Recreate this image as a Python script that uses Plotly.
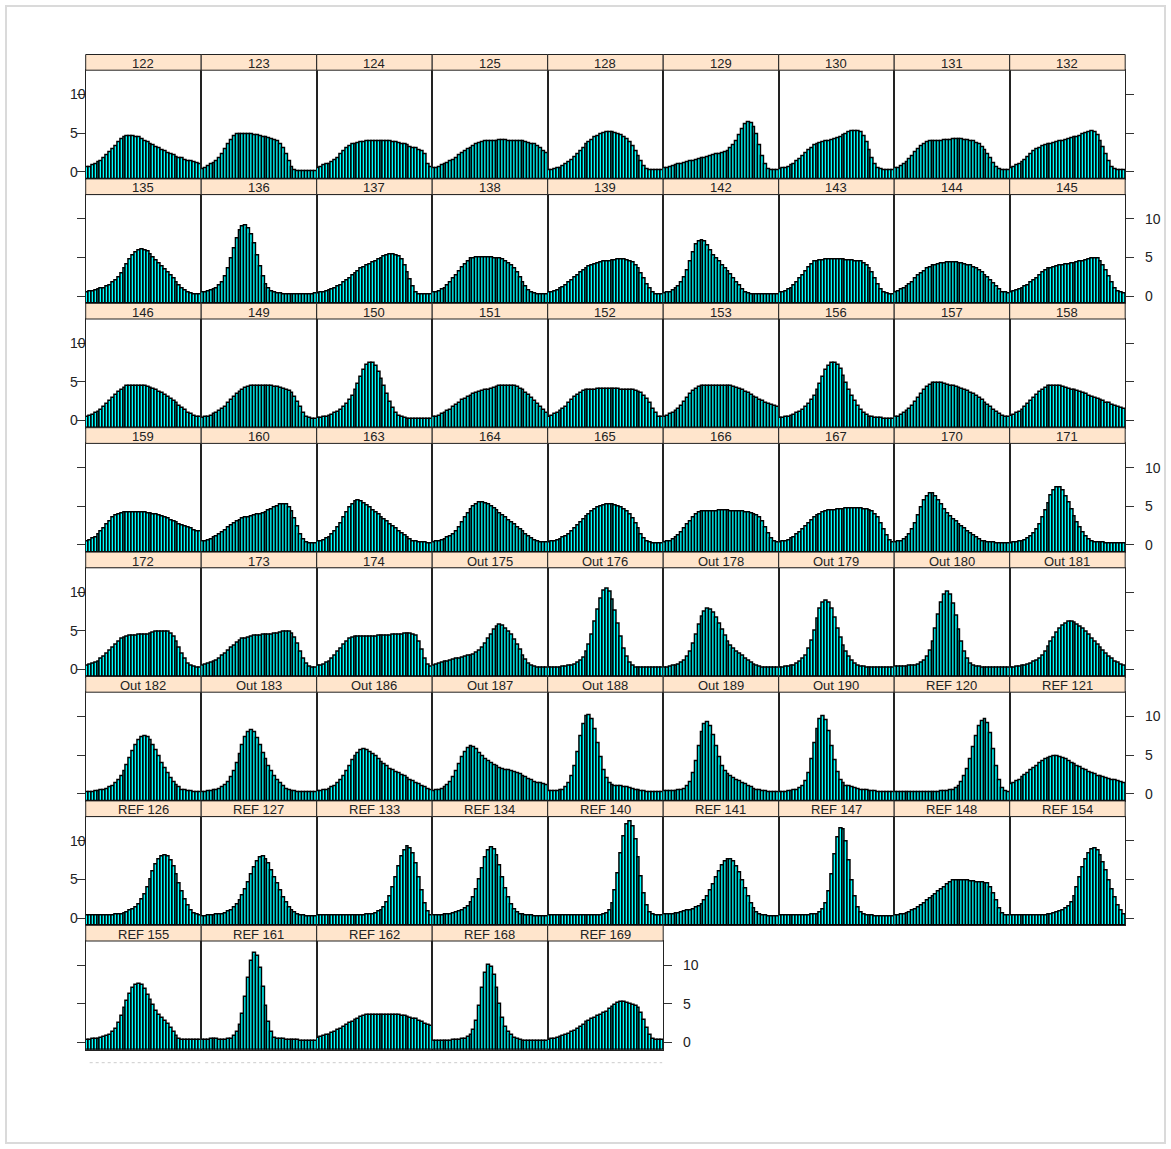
import plotly.graph_objects as go

W, H = 1171, 1149

# ---------------- data (bar heights per panel, 40 bins) ----------------
bins = list(range(40))

v122 = [0.6,0.6,0.8,1.0,1.2,1.4,1.7,2.1,2.5,2.9,3.3,3.8,4.2,4.4,4.6,4.6,4.6,4.5,4.4,4.2,4.0,3.8,3.6,3.4,3.2,3.0,2.8,2.6,2.4,2.3,2.1,1.9,1.8,1.7,1.5,1.4,1.3,1.2,1.1,1.0]
v123 = [0.3,0.5,0.7,0.9,1.1,1.4,1.8,2.3,2.9,3.5,4.1,4.6,4.8,4.9,4.9,4.9,4.8,4.8,4.7,4.7,4.6,4.5,4.4,4.3,4.2,4.1,4.0,3.6,3.0,2.2,1.3,0.6,0.2,0.1,0.1,0.1,0.1,0.1,0.1,0.1]
v124 = [0.5,0.6,0.8,0.9,1.0,1.2,1.5,1.8,2.2,2.6,3.0,3.3,3.5,3.6,3.7,3.8,3.8,3.9,3.9,3.9,3.9,3.9,3.9,3.9,3.9,3.9,3.8,3.8,3.7,3.6,3.5,3.4,3.2,3.1,3.0,2.8,2.6,2.3,1.0,0.6]
v125 = [0.4,0.5,0.6,0.8,0.9,1.1,1.3,1.5,1.8,2.1,2.4,2.7,2.9,3.1,3.3,3.5,3.7,3.8,3.9,4.0,4.0,4.0,4.0,4.1,4.1,4.1,4.0,4.0,4.0,4.0,3.9,3.9,3.8,3.7,3.6,3.5,3.3,3.0,2.6,2.4]
v128 = [0.2,0.2,0.3,0.4,0.5,0.7,0.9,1.2,1.5,1.9,2.3,2.7,3.1,3.5,3.8,4.1,4.4,4.6,4.8,5.0,5.1,5.1,5.1,5.0,4.9,4.7,4.5,4.2,3.8,3.3,2.7,2.0,1.3,0.7,0.3,0.2,0.2,0.2,0.2,0.2]
v129 = [0.4,0.5,0.6,0.7,0.8,0.9,1.0,1.1,1.2,1.3,1.4,1.5,1.6,1.7,1.8,1.9,2.0,2.1,2.2,2.3,2.4,2.5,2.7,3.0,3.4,4.0,4.7,5.5,6.1,6.4,6.3,5.8,4.8,3.4,2.0,0.9,0.3,0.2,0.2,0.2]
v130 = [0.3,0.4,0.5,0.6,0.8,1.0,1.3,1.6,2.0,2.4,2.8,3.1,3.4,3.6,3.7,3.8,3.9,4.0,4.1,4.2,4.3,4.5,4.7,4.9,5.1,5.2,5.3,5.3,5.1,4.6,3.8,2.8,1.8,0.9,0.4,0.3,0.2,0.2,0.2,0.2]
v131 = [0.4,0.5,0.7,0.9,1.2,1.6,2.0,2.5,2.9,3.3,3.6,3.8,3.9,4.0,4.0,4.0,4.0,4.1,4.1,4.1,4.2,4.2,4.2,4.2,4.1,4.1,4.0,3.9,3.7,3.5,3.2,2.8,2.3,1.7,1.1,0.6,0.3,0.2,0.2,0.2]
v132 = [0.5,0.6,0.8,1.0,1.2,1.5,1.9,2.3,2.6,2.9,3.1,3.3,3.4,3.5,3.6,3.7,3.8,3.9,4.0,4.1,4.2,4.3,4.4,4.5,4.6,4.8,5.0,5.1,5.2,5.1,4.7,4.0,3.2,2.3,1.3,0.6,0.3,0.2,0.2,0.2]

v135 = [0.5,0.6,0.6,0.7,0.8,0.9,1.0,1.2,1.4,1.7,2.0,2.4,2.9,3.5,4.1,4.7,5.2,5.6,5.9,6.0,5.9,5.7,5.4,5.0,4.6,4.2,3.8,3.4,3.0,2.6,2.2,1.8,1.4,1.0,0.7,0.4,0.3,0.2,0.2,0.2]
v136 = [0.4,0.5,0.6,0.7,0.8,1.0,1.3,1.8,2.5,3.5,4.8,6.2,7.5,8.5,9.0,9.1,8.8,8.0,6.8,5.3,3.8,2.5,1.5,0.9,0.6,0.4,0.3,0.3,0.2,0.2,0.2,0.2,0.2,0.2,0.2,0.2,0.2,0.2,0.2,0.3]
v137 = [0.3,0.4,0.5,0.6,0.7,0.8,1.0,1.2,1.4,1.7,2.0,2.3,2.6,2.9,3.2,3.5,3.7,3.9,4.1,4.3,4.5,4.7,4.9,5.1,5.3,5.4,5.4,5.3,5.1,4.7,4.0,3.1,2.1,1.2,0.5,0.2,0.2,0.2,0.2,0.2]
v138 = [0.4,0.5,0.6,0.8,1.0,1.3,1.7,2.2,2.7,3.2,3.7,4.1,4.5,4.8,4.9,5.0,5.0,5.0,5.0,5.0,5.0,4.9,4.9,4.8,4.7,4.5,4.2,3.9,3.5,3.0,2.4,1.8,1.2,0.7,0.4,0.3,0.2,0.2,0.2,0.2]
v139 = [0.4,0.5,0.6,0.7,0.9,1.1,1.4,1.7,2.0,2.4,2.7,3.0,3.3,3.6,3.8,4.0,4.1,4.2,4.3,4.4,4.5,4.5,4.6,4.6,4.7,4.7,4.7,4.6,4.5,4.3,4.0,3.5,2.9,2.2,1.5,0.9,0.4,0.2,0.2,0.2]
v142 = [0.3,0.4,0.5,0.7,0.9,1.2,1.7,2.4,3.3,4.4,5.6,6.6,7.1,7.2,7.0,6.5,5.9,5.3,4.8,4.4,4.0,3.6,3.2,2.8,2.3,1.8,1.3,0.8,0.5,0.3,0.2,0.2,0.2,0.2,0.2,0.2,0.2,0.2,0.2,0.2]
v143 = [0.4,0.5,0.6,0.8,1.0,1.3,1.7,2.2,2.7,3.2,3.7,4.1,4.4,4.5,4.6,4.6,4.7,4.7,4.7,4.7,4.7,4.7,4.7,4.6,4.6,4.6,4.5,4.5,4.4,4.2,4.0,3.6,3.0,2.3,1.5,0.8,0.4,0.3,0.2,0.2]
v144 = [0.5,0.6,0.8,1.0,1.2,1.5,1.8,2.2,2.6,2.9,3.2,3.5,3.7,3.9,4.0,4.1,4.2,4.2,4.3,4.3,4.3,4.3,4.2,4.2,4.1,4.0,3.9,3.7,3.5,3.3,3.0,2.7,2.4,2.0,1.6,1.2,0.8,0.5,0.4,0.3]
v145 = [0.5,0.6,0.7,0.8,1.0,1.2,1.4,1.7,2.0,2.3,2.7,3.0,3.3,3.5,3.6,3.7,3.8,3.9,4.0,4.1,4.1,4.2,4.2,4.3,4.4,4.5,4.6,4.7,4.8,4.9,4.8,4.5,4.0,3.3,2.5,1.7,1.0,0.6,0.4,0.3]

v146 = [0.5,0.6,0.7,0.9,1.1,1.4,1.7,2.1,2.5,2.9,3.3,3.7,4.0,4.2,4.4,4.5,4.5,4.5,4.5,4.4,4.4,4.3,4.2,4.1,3.9,3.7,3.5,3.3,3.1,2.8,2.5,2.2,1.9,1.6,1.3,1.0,0.8,0.6,0.5,0.4]
v149 = [0.3,0.4,0.5,0.6,0.8,1.0,1.2,1.5,1.8,2.2,2.6,3.0,3.4,3.7,4.0,4.2,4.3,4.4,4.5,4.5,4.5,4.5,4.4,4.4,4.4,4.3,4.3,4.2,4.1,4.0,3.8,3.5,3.0,2.4,1.7,1.0,0.5,0.3,0.2,0.2]
v150 = [0.3,0.3,0.4,0.5,0.6,0.7,0.9,1.1,1.4,1.7,2.1,2.6,3.2,3.9,4.7,5.6,6.5,7.2,7.5,7.4,7.0,6.3,5.4,4.4,3.4,2.4,1.6,1.0,0.6,0.4,0.3,0.2,0.2,0.2,0.2,0.2,0.2,0.2,0.2,0.2]
v151 = [0.4,0.5,0.6,0.8,1.0,1.2,1.4,1.7,2.0,2.3,2.6,2.8,3.0,3.2,3.4,3.6,3.7,3.8,3.9,4.0,4.1,4.2,4.3,4.4,4.4,4.5,4.5,4.5,4.4,4.3,4.1,3.9,3.6,3.3,2.9,2.5,2.1,1.7,1.3,1.0]
v152 = [0.5,0.6,0.8,1.0,1.2,1.5,1.8,2.2,2.6,3.0,3.3,3.6,3.8,3.9,4.0,4.0,4.0,4.1,4.1,4.1,4.1,4.1,4.1,4.1,4.1,4.0,4.0,4.0,3.9,3.9,3.8,3.7,3.5,3.2,2.8,2.2,1.5,0.9,0.5,0.4]
v153 = [0.5,0.6,0.8,1.0,1.2,1.5,1.9,2.4,2.9,3.4,3.8,4.1,4.3,4.4,4.4,4.4,4.4,4.4,4.4,4.4,4.4,4.4,4.4,4.4,4.3,4.2,4.1,3.9,3.7,3.5,3.3,3.1,2.9,2.7,2.5,2.3,2.1,2.0,1.9,1.8]
v156 = [0.3,0.3,0.4,0.5,0.6,0.7,0.9,1.1,1.4,1.7,2.1,2.6,3.2,3.9,4.7,5.6,6.5,7.1,7.5,7.5,7.2,6.6,5.8,4.9,4.0,3.2,2.5,1.9,1.4,1.0,0.7,0.5,0.4,0.3,0.3,0.3,0.2,0.2,0.2,0.2]
v157 = [0.4,0.5,0.7,0.9,1.2,1.5,1.9,2.4,2.9,3.4,3.9,4.3,4.6,4.8,4.9,4.9,4.8,4.7,4.6,4.5,4.4,4.3,4.2,4.1,4.0,3.8,3.6,3.4,3.2,2.9,2.6,2.3,2.0,1.7,1.4,1.1,0.8,0.6,0.5,0.4]
v158 = [0.6,0.7,0.9,1.1,1.4,1.7,2.1,2.5,2.9,3.3,3.7,4.0,4.2,4.4,4.5,4.5,4.5,4.4,4.3,4.2,4.1,4.0,3.9,3.8,3.7,3.5,3.4,3.2,3.1,2.9,2.8,2.6,2.5,2.3,2.2,2.0,1.9,1.7,1.6,1.5]

v159 = [0.5,0.6,0.8,1.0,1.3,1.7,2.1,2.6,3.1,3.5,3.8,4.0,4.1,4.2,4.2,4.2,4.2,4.2,4.2,4.2,4.2,4.1,4.1,4.0,3.9,3.8,3.7,3.5,3.4,3.2,3.0,2.9,2.7,2.5,2.4,2.2,2.1,1.9,1.8,1.7]
v160 = [0.4,0.5,0.6,0.7,0.9,1.1,1.3,1.6,1.9,2.2,2.5,2.8,3.0,3.2,3.4,3.5,3.6,3.7,3.8,3.9,4.0,4.1,4.2,4.4,4.6,4.8,5.0,5.2,5.3,5.2,4.9,4.3,3.4,2.4,1.4,0.7,0.3,0.2,0.2,0.2]
v163 = [0.4,0.5,0.6,0.8,1.0,1.3,1.7,2.2,2.8,3.5,4.2,4.8,5.3,5.6,5.7,5.6,5.4,5.1,4.8,4.5,4.2,3.9,3.6,3.3,3.0,2.7,2.4,2.1,1.8,1.5,1.2,0.9,0.7,0.5,0.4,0.3,0.3,0.3,0.2,0.2]
v164 = [0.3,0.4,0.5,0.6,0.7,0.9,1.1,1.4,1.8,2.3,2.9,3.5,4.1,4.6,5.0,5.3,5.5,5.5,5.4,5.2,5.0,4.7,4.4,4.1,3.8,3.5,3.2,2.9,2.6,2.3,2.0,1.7,1.4,1.1,0.8,0.6,0.4,0.3,0.3,0.3]
v165 = [0.3,0.4,0.5,0.6,0.7,0.9,1.1,1.4,1.7,2.1,2.5,2.9,3.3,3.7,4.0,4.3,4.6,4.8,5.0,5.1,5.2,5.2,5.2,5.1,5.0,4.8,4.6,4.3,3.9,3.4,2.8,2.1,1.4,0.8,0.4,0.3,0.2,0.2,0.2,0.2]
v166 = [0.3,0.4,0.5,0.7,0.9,1.2,1.6,2.1,2.6,3.1,3.6,4.0,4.2,4.3,4.3,4.3,4.3,4.3,4.3,4.4,4.4,4.4,4.4,4.3,4.3,4.3,4.3,4.3,4.2,4.2,4.1,4.0,3.8,3.5,3.0,2.3,1.5,0.8,0.4,0.3]
v167 = [0.3,0.4,0.5,0.6,0.8,1.0,1.3,1.6,2.0,2.4,2.8,3.2,3.5,3.8,4.0,4.2,4.3,4.4,4.5,4.5,4.6,4.6,4.6,4.7,4.7,4.7,4.7,4.7,4.7,4.6,4.6,4.5,4.3,4.0,3.5,2.8,2.0,1.2,0.6,0.3]
v170 = [0.3,0.4,0.5,0.7,1.0,1.4,2.0,2.8,3.8,4.8,5.7,6.3,6.6,6.6,6.3,5.8,5.2,4.6,4.1,3.7,3.3,3.0,2.7,2.4,2.1,1.8,1.5,1.2,0.9,0.7,0.5,0.4,0.3,0.3,0.3,0.2,0.2,0.2,0.2,0.2]
v171 = [0.2,0.3,0.3,0.4,0.5,0.6,0.8,1.1,1.5,2.0,2.7,3.5,4.4,5.4,6.4,7.1,7.5,7.4,7.0,6.3,5.5,4.6,3.7,2.9,2.2,1.6,1.1,0.7,0.5,0.3,0.3,0.3,0.3,0.2,0.2,0.2,0.2,0.2,0.2,0.2]

v172 = [0.5,0.6,0.7,0.8,1.0,1.3,1.6,2.0,2.4,2.8,3.2,3.6,3.9,4.1,4.2,4.3,4.3,4.3,4.4,4.4,4.5,4.5,4.6,4.7,4.8,4.8,4.9,4.9,4.8,4.6,4.2,3.6,2.8,2.0,1.3,0.7,0.4,0.3,0.2,0.2]
v173 = [0.5,0.6,0.7,0.8,0.9,1.1,1.4,1.7,2.0,2.4,2.8,3.1,3.4,3.7,3.9,4.0,4.1,4.2,4.3,4.3,4.3,4.4,4.4,4.5,4.5,4.6,4.6,4.7,4.8,4.8,4.8,4.6,4.1,3.3,2.3,1.4,0.7,0.3,0.2,0.2]
v174 = [0.4,0.5,0.6,0.8,1.0,1.3,1.7,2.2,2.7,3.2,3.6,3.9,4.1,4.2,4.2,4.2,4.2,4.2,4.2,4.2,4.2,4.3,4.3,4.3,4.3,4.3,4.4,4.4,4.5,4.5,4.6,4.6,4.6,4.5,4.3,3.6,2.5,1.3,0.6,0.3]
v_out175 = [0.5,0.6,0.7,0.8,0.9,1.0,1.1,1.2,1.3,1.4,1.5,1.6,1.7,1.8,1.9,2.1,2.4,2.8,3.3,3.9,4.5,5.1,5.5,5.7,5.6,5.3,4.9,4.4,3.8,3.2,2.5,1.8,1.2,0.7,0.4,0.3,0.2,0.2,0.2,0.2]
v_out176 = [0.2,0.2,0.2,0.2,0.2,0.3,0.3,0.4,0.5,0.6,0.8,1.1,1.5,2.2,3.2,4.5,6.1,7.7,9.1,10.1,10.4,10.0,9.0,7.6,5.9,4.2,2.7,1.6,0.8,0.4,0.2,0.2,0.2,0.2,0.2,0.2,0.2,0.2,0.2,0.2]
v_out178 = [0.2,0.2,0.3,0.4,0.5,0.6,0.8,1.1,1.6,2.3,3.3,4.5,5.7,6.8,7.5,7.8,7.7,7.3,6.7,5.9,5.1,4.3,3.6,3.0,2.6,2.3,2.0,1.7,1.4,1.1,0.8,0.6,0.4,0.3,0.2,0.2,0.2,0.2,0.2,0.2]
v_out179 = [0.2,0.2,0.3,0.3,0.4,0.5,0.7,0.9,1.3,1.8,2.6,3.7,5.0,6.5,7.8,8.6,8.9,8.6,7.8,6.6,5.3,4.1,3.1,2.3,1.6,1.1,0.7,0.5,0.3,0.3,0.2,0.2,0.2,0.2,0.2,0.2,0.2,0.2,0.2,0.2]
v_out180 = [0.3,0.3,0.3,0.3,0.3,0.4,0.4,0.5,0.6,0.8,1.1,1.6,2.4,3.6,5.2,7.0,8.6,9.7,10.0,9.6,8.5,6.9,5.1,3.5,2.2,1.3,0.7,0.4,0.3,0.3,0.2,0.2,0.2,0.2,0.2,0.2,0.2,0.2,0.2,0.2]
v_out181 = [0.2,0.2,0.3,0.3,0.4,0.5,0.6,0.7,0.9,1.1,1.4,1.8,2.3,2.9,3.5,4.1,4.7,5.2,5.6,5.9,6.1,6.1,6.0,5.8,5.5,5.2,4.8,4.4,4.0,3.6,3.2,2.8,2.4,2.0,1.6,1.3,1.0,0.8,0.6,0.5]

v_out182 = [0.2,0.2,0.2,0.3,0.3,0.4,0.5,0.6,0.8,1.0,1.3,1.7,2.2,2.9,3.7,4.6,5.5,6.3,6.9,7.3,7.4,7.3,6.9,6.3,5.6,4.8,4.0,3.3,2.6,2.0,1.5,1.1,0.8,0.5,0.4,0.3,0.3,0.2,0.2,0.2]
v_out183 = [0.2,0.2,0.3,0.3,0.4,0.5,0.6,0.8,1.1,1.5,2.1,2.9,3.9,5.1,6.3,7.3,8.0,8.2,7.9,7.2,6.3,5.3,4.4,3.6,2.9,2.3,1.8,1.3,0.9,0.6,0.4,0.3,0.3,0.2,0.2,0.2,0.2,0.2,0.2,0.2]
v_out186 = [0.3,0.3,0.4,0.5,0.6,0.8,1.0,1.3,1.7,2.2,2.9,3.6,4.3,4.9,5.3,5.6,5.7,5.6,5.4,5.1,4.8,4.4,4.1,3.8,3.5,3.2,3.0,2.8,2.6,2.4,2.2,2.0,1.8,1.6,1.4,1.2,1.0,0.8,0.6,0.5]
v_out187 = [0.3,0.4,0.5,0.6,0.8,1.1,1.5,2.1,2.9,3.8,4.7,5.4,5.9,6.1,6.0,5.7,5.3,4.9,4.5,4.2,3.9,3.7,3.5,3.3,3.2,3.1,3.0,2.9,2.8,2.7,2.5,2.3,2.1,1.9,1.7,1.5,1.4,1.3,1.2,1.1]
v_out188 = [0.3,0.3,0.3,0.3,0.4,0.5,0.8,1.3,2.2,3.6,5.4,7.4,9.0,10.0,10.2,9.6,8.3,6.5,4.7,3.1,2.0,1.4,1.1,1.0,0.9,0.9,0.8,0.8,0.7,0.6,0.5,0.4,0.3,0.3,0.2,0.2,0.2,0.2,0.2,0.2]
v_out189 = [0.3,0.3,0.3,0.3,0.3,0.4,0.5,0.6,0.9,1.5,2.6,4.2,6.1,7.9,9.0,9.3,8.8,7.6,6.1,4.7,3.6,2.9,2.5,2.2,2.0,1.8,1.6,1.4,1.2,1.0,0.8,0.6,0.5,0.4,0.3,0.3,0.2,0.2,0.2,0.2]
v_out190 = [0.2,0.2,0.2,0.3,0.3,0.4,0.5,0.7,1.0,1.6,2.7,4.4,6.5,8.4,9.6,10.0,9.5,8.1,6.2,4.3,2.8,1.8,1.3,1.0,0.9,0.8,0.7,0.6,0.5,0.4,0.4,0.3,0.3,0.3,0.2,0.2,0.2,0.2,0.2,0.2]
v_ref120 = [0.2,0.2,0.2,0.2,0.2,0.2,0.2,0.2,0.2,0.2,0.2,0.2,0.2,0.2,0.2,0.2,0.3,0.3,0.3,0.4,0.5,0.7,1.0,1.5,2.2,3.2,4.5,6.0,7.5,8.7,9.4,9.6,9.1,7.8,5.8,3.6,1.8,0.7,0.3,0.2]
v_ref121 = [1.2,1.4,1.6,1.8,2.1,2.4,2.7,3.0,3.3,3.6,3.9,4.2,4.4,4.6,4.7,4.8,4.8,4.7,4.6,4.4,4.2,4.0,3.8,3.6,3.4,3.2,3.0,2.8,2.6,2.5,2.3,2.2,2.1,2.0,1.9,1.8,1.7,1.6,1.5,1.4]

v_ref126 = [0.3,0.3,0.3,0.3,0.3,0.3,0.3,0.3,0.3,0.3,0.4,0.4,0.5,0.6,0.7,0.9,1.1,1.4,1.8,2.4,3.1,4.0,5.0,6.0,6.9,7.6,8.0,8.1,7.9,7.4,6.6,5.6,4.5,3.4,2.4,1.6,1.0,0.6,0.4,0.3]
v_ref127 = [0.2,0.2,0.3,0.3,0.3,0.4,0.4,0.5,0.6,0.8,1.0,1.3,1.7,2.2,2.9,3.7,4.6,5.6,6.5,7.3,7.8,7.9,7.6,7.0,6.2,5.3,4.4,3.5,2.7,2.0,1.4,1.0,0.7,0.5,0.3,0.3,0.2,0.2,0.2,0.2]
v_ref133 = [0.3,0.3,0.3,0.3,0.3,0.3,0.3,0.3,0.3,0.3,0.3,0.3,0.3,0.3,0.3,0.3,0.3,0.4,0.4,0.5,0.6,0.8,1.0,1.4,2.0,2.8,3.9,5.2,6.6,7.9,8.8,9.2,9.0,8.3,7.0,5.3,3.5,1.9,0.8,0.3]
v_ref134 = [0.3,0.3,0.3,0.3,0.4,0.4,0.5,0.6,0.7,0.8,1.0,1.2,1.5,2.0,2.7,3.7,5.0,6.4,7.8,8.7,9.1,8.9,8.1,6.8,5.3,3.8,2.6,1.7,1.1,0.7,0.5,0.4,0.3,0.3,0.3,0.2,0.2,0.2,0.2,0.2]
v_ref140 = [0.3,0.3,0.3,0.3,0.3,0.3,0.3,0.3,0.3,0.3,0.3,0.3,0.3,0.3,0.3,0.3,0.3,0.3,0.3,0.4,0.6,1.0,1.9,3.5,5.8,8.3,10.6,12.1,12.5,11.8,10.1,7.8,5.4,3.2,1.6,0.7,0.4,0.3,0.3,0.3]
v_ref141 = [0.4,0.4,0.5,0.5,0.6,0.6,0.7,0.8,0.9,1.0,1.1,1.3,1.5,1.8,2.2,2.8,3.5,4.3,5.2,6.0,6.8,7.3,7.6,7.6,7.3,6.7,5.9,4.9,3.8,2.8,1.9,1.2,0.7,0.4,0.3,0.3,0.2,0.2,0.2,0.2]
v_ref147 = [0.3,0.3,0.3,0.3,0.3,0.3,0.3,0.3,0.3,0.3,0.3,0.4,0.4,0.5,0.7,1.1,1.9,3.4,5.6,8.2,10.4,11.6,11.4,9.9,7.5,4.9,2.8,1.4,0.7,0.4,0.3,0.3,0.3,0.2,0.2,0.2,0.2,0.2,0.2,0.2]
v_ref148 = [0.3,0.3,0.4,0.5,0.6,0.7,0.9,1.1,1.3,1.6,1.9,2.2,2.5,2.8,3.1,3.4,3.7,4.0,4.3,4.6,4.8,4.9,4.9,4.9,4.8,4.8,4.7,4.7,4.6,4.6,4.6,4.5,4.4,4.0,3.2,2.2,1.2,0.6,0.3,0.3]
v_ref154 = [0.3,0.3,0.3,0.3,0.3,0.3,0.3,0.3,0.3,0.3,0.3,0.3,0.3,0.4,0.5,0.6,0.7,0.8,1.0,1.2,1.5,2.0,2.8,3.9,5.2,6.5,7.6,8.4,8.9,9.0,8.7,8.1,7.2,6.1,4.9,3.7,2.6,1.6,0.9,0.5]

v_ref155 = [0.3,0.3,0.4,0.4,0.5,0.6,0.7,0.8,1.0,1.3,1.8,2.5,3.4,4.4,5.4,6.3,7.0,7.5,7.6,7.4,6.9,6.2,5.5,4.8,4.1,3.6,3.2,2.8,2.4,1.9,1.3,0.8,0.4,0.3,0.3,0.3,0.3,0.3,0.3,0.3]
v_ref161 = [0.3,0.3,0.3,0.4,0.4,0.4,0.3,0.3,0.3,0.4,0.5,0.8,1.3,2.2,3.7,5.9,8.4,10.5,11.6,11.2,9.6,7.2,4.7,2.7,1.3,0.6,0.4,0.4,0.4,0.3,0.3,0.3,0.3,0.3,0.2,0.2,0.2,0.2,0.2,0.2]
v_ref162 = [0.6,0.7,0.8,0.9,1.0,1.2,1.4,1.6,1.8,2.0,2.3,2.5,2.7,2.9,3.1,3.3,3.4,3.5,3.6,3.6,3.6,3.6,3.6,3.6,3.6,3.6,3.6,3.5,3.5,3.4,3.4,3.3,3.2,3.1,3.0,2.8,2.6,2.4,2.2,2.1]
v_ref168 = [0.2,0.2,0.2,0.2,0.2,0.2,0.2,0.3,0.3,0.3,0.4,0.5,0.7,1.0,1.6,2.8,4.7,7.0,9.0,10.0,9.8,8.7,7.0,5.0,3.2,2.0,1.3,0.9,0.6,0.4,0.3,0.2,0.2,0.2,0.2,0.2,0.2,0.2,0.2,0.2]
v_ref169 = [0.3,0.4,0.5,0.6,0.7,0.8,0.9,1.1,1.3,1.5,1.7,2.0,2.3,2.6,2.8,3.0,3.2,3.4,3.6,3.8,4.0,4.3,4.6,4.9,5.1,5.2,5.2,5.1,5.0,4.9,4.7,4.4,3.8,2.9,1.9,1.0,0.5,0.3,0.3,0.3]

panel_labels = [
    "122", "123", "124", "125", "128", "129", "130", "131", "132",
    "135", "136", "137", "138", "139", "142", "143", "144", "145",
    "146", "149", "150", "151", "152", "153", "156", "157", "158",
    "159", "160", "163", "164", "165", "166", "167", "170", "171",
    "172", "173", "174", "Out 175", "Out 176", "Out 178", "Out 179", "Out 180", "Out 181",
    "Out 182", "Out 183", "Out 186", "Out 187", "Out 188", "Out 189", "Out 190", "REF 120", "REF 121",
    "REF 126", "REF 127", "REF 133", "REF 134", "REF 140", "REF 141", "REF 147", "REF 148", "REF 154",
    "REF 155", "REF 161", "REF 162", "REF 168", "REF 169",
]
panel_values = [
    v122, v123, v124, v125, v128, v129, v130, v131, v132,
    v135, v136, v137, v138, v139, v142, v143, v144, v145,
    v146, v149, v150, v151, v152, v153, v156, v157, v158,
    v159, v160, v163, v164, v165, v166, v167, v170, v171,
    v172, v173, v174, v_out175, v_out176, v_out178, v_out179, v_out180, v_out181,
    v_out182, v_out183, v_out186, v_out187, v_out188, v_out189, v_out190, v_ref120, v_ref121,
    v_ref126, v_ref127, v_ref133, v_ref134, v_ref140, v_ref141, v_ref147, v_ref148, v_ref154,
    v_ref155, v_ref161, v_ref162, v_ref168, v_ref169,
]
y_ticks = [0, 5, 10]
y_tick_text = ["0", "5", "10"]

# ---------------- layout geometry (pixels) ----------------
NCOL = 9
X0, PW = 85.7, 115.5
TOP, RH, SH = 54.5, 124.4, 15.7
YMIN, YMAX = -0.94, 13.14
FONT = "Liberation Sans, Arial, sans-serif"
STRIP_BG = "#FFE5CC"
FRAME = "#222222"

def px(x):
    return x / W

def py(y):
    return 1 - y / H

fig = go.Figure()
shapes = []
annotations = []
layout_axes = {}
n_panels = len(panel_labels)
nrows = (n_panels + NCOL - 1) // NCOL

for k, (label, vals) in enumerate(zip(panel_labels, panel_values)):
    r, c = divmod(k, NCOL)
    n = k + 1
    xa = "x" if n == 1 else f"x{n}"
    ya = "y" if n == 1 else f"y{n}"
    x0 = X0 + c * PW
    x1 = x0 + PW
    st = TOP + r * RH
    sb = st + SH
    pb = st + RH

    fig.add_trace(go.Bar(
        x=bins, y=[v - YMIN for v in vals], base=YMIN,
        xaxis=xa, yaxis=ya, width=1.0,
        marker=dict(color="#00FFFF", line=dict(color="#000000", width=1.5)),
        showlegend=False, hoverinfo="skip",
    ))

    layout_axes["xaxis" if n == 1 else f"xaxis{n}"] = dict(
        domain=[px(x0), px(x1)], anchor=ya, range=[-0.5, len(bins) - 0.5],
        showgrid=False, zeroline=False, showticklabels=False, ticks="",
        showline=True, mirror=True, linecolor=FRAME, linewidth=1, fixedrange=True,
    )
    last_in_row = (c == NCOL - 1) or (k == n_panels - 1)
    yax = dict(
        domain=[py(pb), py(sb)], anchor=xa, range=[YMIN, YMAX],
        showgrid=False, zeroline=False, showticklabels=False,
        showline=True, mirror=True, linecolor=FRAME, linewidth=1, fixedrange=True,
        tickvals=y_ticks, ticks="",
    )
    if c == 0:
        yax.update(ticks="outside", side="left", ticklen=8, tickcolor="#333333", tickwidth=1)
    elif last_in_row:
        yax.update(ticks="outside", side="right", ticklen=8, tickcolor="#333333", tickwidth=1)
    layout_axes["yaxis" if n == 1 else f"yaxis{n}"] = yax

    # tick labels (alternating sides per row)
    if c == 0 and r % 2 == 0:
        for tv, tt in zip(y_ticks, y_tick_text):
            annotations.append(dict(x=px(68), xref="paper", y=tv, yref=ya, text=tt,
                                    xanchor="left", yanchor="middle", showarrow=False,
                                    font=dict(family=FONT, size=14, color="#222222")))
    if last_in_row and r % 2 == 1:
        for tv, tt in zip(y_ticks, y_tick_text):
            annotations.append(dict(x=px(x1 + 17.5), xref="paper", y=tv, yref=ya, text=tt,
                                    xanchor="left", yanchor="middle", showarrow=False,
                                    font=dict(family=FONT, size=14, color="#222222")))

    # strip
    shapes.append(dict(type="rect", xref="paper", yref="paper",
                       x0=px(x0), x1=px(x1), y0=py(sb), y1=py(st),
                       fillcolor=STRIP_BG, line=dict(color=FRAME, width=1), layer="above"))
    annotations.append(dict(x=px((x0 + x1) / 2), y=py((st + sb) / 2 + 1.2), xref="paper", yref="paper",
                            text=label, showarrow=False, xanchor="center", yanchor="middle",
                            font=dict(family=FONT, size=13, color="#222222")))

    # faint axis line under bottom row
    if r == nrows - 1:
        shapes.append(dict(type="line", xref="paper", yref="paper",
                           x0=px(x0 + 4), x1=px(x1 - 1), y0=py(pb + 13), y1=py(pb + 13),
                           line=dict(color="#cccccc", width=1, dash="dot")))

# outer frame
shapes.append(dict(type="rect", xref="paper", yref="paper",
                   x0=px(6), x1=px(1165), y0=py(1143), y1=py(6),
                   line=dict(color="#dadada", width=2), fillcolor="rgba(0,0,0,0)"))

fig.update_layout(
    width=W, height=H, margin=dict(l=0, r=0, t=0, b=0, pad=0),
    paper_bgcolor="white", plot_bgcolor="white",
    bargap=0, barmode="overlay", showlegend=False,
    shapes=shapes, annotations=annotations,
    font=dict(family=FONT, size=13, color="#222222"),
    **layout_axes,
)

fig.write_html("out.html", config={"displayModeBar": False},
               post_script="document.body.style.margin='0';document.body.style.overflow='hidden';")
